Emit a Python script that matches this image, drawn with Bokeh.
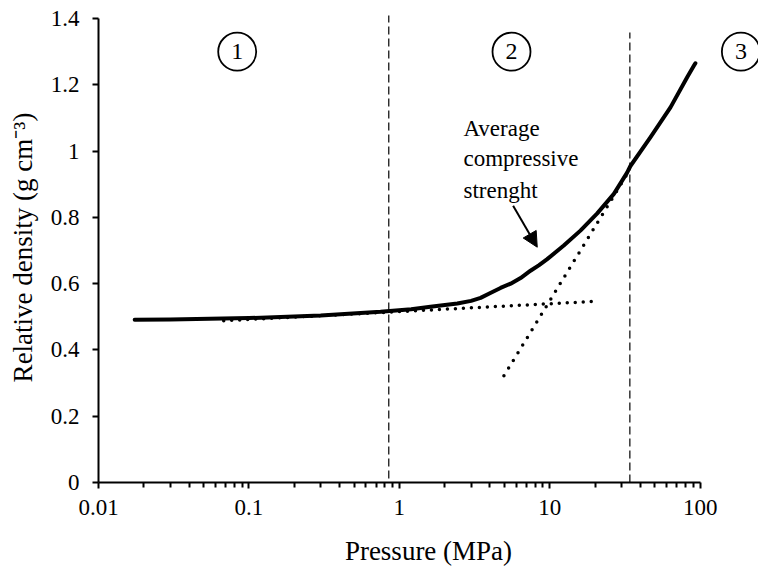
from bokeh.plotting import figure
from bokeh.models import Range1d, FixedTicker, Arrow, NormalHead
from bokeh.core.properties import value
from bokeh.embed import file_html
from bokeh.resources import INLINE

# ---- data ----
pressure = [0.0174, 0.03, 0.1, 0.3, 0.75, 1.2, 1.61, 2.43, 3.0, 3.47, 4.0, 4.71, 5.5,
            6.4, 7.45, 8.5, 9.62, 12.4, 16.0, 20.7, 26.7, 32.7, 34.4, 46.8, 63.5,
            82.0, 91.0, 93.0]
density = [0.491, 0.492, 0.496, 0.504, 0.515, 0.523, 0.530, 0.540, 0.548, 0.557, 0.571, 0.587, 0.600,
           0.617, 0.639, 0.656, 0.674, 0.715, 0.760, 0.812, 0.871, 0.935, 0.955, 1.042, 1.132,
           1.223, 1.258, 1.265]

fit_low_x = [0.068, 19.2]
fit_low_y = [0.488, 0.546]
fit_high_x = [4.96, 34.4]
fit_high_y = [0.322, 0.947]

boundary_x = [0.851, 34.1]
boundary_y0 = [0.012, 0.0]
boundary_y1 = [1.409, 1.358]

region_x = [0.0836, 5.57, 186.6]
region_y = [1.30, 1.30, 1.30]
region_labels = ["1", "2", "3"]

x_ticks = [0.01, 0.1, 1, 10, 100]
x_tick_labels = ["0.01", "0.1", "1", "10", "100"]
y_ticks = [0, 0.2, 0.4, 0.6, 0.8, 1.0, 1.2, 1.4]
y_tick_labels = ["0", "0.2", "0.4", "0.6", "0.8", "1", "1.2", "1.4"]

note_lines = ["Average", "compressive", "strenght"]
note_x = [2.67, 2.67, 2.67]
note_y = [1.068, 0.977, 0.880]
arrow_start = (5.71, 0.835)
arrow_end = (8.26, 0.71)

FONT = "Liberation Serif"

p = figure(x_axis_type="log",
           x_range=Range1d(0.01, 10 ** 2.388),
           y_range=Range1d(0, 1.4182),
           frame_width=660, frame_height=470,
           min_border_left=98, min_border_right=0, min_border_top=12, min_border_bottom=80,
           output_backend="svg", toolbar_location=None,
           x_axis_label="Pressure (MPa)",
           y_axis_label="Relative density (g cm\u207b\u00b3)")
p.outline_line_color = None
p.grid.visible = False
p.background_fill_color = "white"
p.border_fill_color = "white"

# axes
minor = [m * d for d in x_ticks[:-1] for m in range(2, 10)]
p.xaxis.ticker = FixedTicker(ticks=x_ticks, minor_ticks=minor)
p.xaxis.major_label_overrides = {t: l for t, l in zip(x_ticks, x_tick_labels)}
p.xaxis.bounds = (x_ticks[0], x_ticks[-1])
p.yaxis.ticker = FixedTicker(ticks=y_ticks, minor_ticks=[])
p.yaxis.major_label_overrides = {t: l for t, l in zip(y_ticks, y_tick_labels)}
p.yaxis.bounds = (y_ticks[0], y_ticks[-1])

for ax in (p.xaxis, p.yaxis):
    ax.axis_line_width = 2
    ax.axis_line_color = "black"
    ax.major_tick_line_color = "black"
    ax.major_tick_line_width = 2
    ax.minor_tick_line_color = "black"
    ax.minor_tick_line_width = 2
    ax.major_tick_in = 0
    ax.minor_tick_in = 0
    ax.major_tick_out = 6
    ax.minor_tick_out = 5
    ax.major_label_text_font = FONT
    ax.major_label_text_font_size = "23px"
    ax.major_label_text_color = "black"
    ax.axis_label_text_font = FONT
    ax.axis_label_text_font_size = "27px"
    ax.axis_label_text_font_style = "normal"
    ax.axis_label_text_color = "black"
p.xaxis.major_label_standoff = 11
p.yaxis.major_label_standoff = 13
p.xaxis.axis_label_standoff = 18
p.yaxis.axis_label_standoff = 10

# region boundaries
p.segment(x0=boundary_x, y0=boundary_y0, x1=boundary_x, y1=boundary_y1,
          line_color="black", line_width=1.2, line_dash="8 4")

# tangent lines (dotted)
p.line(fit_low_x, fit_low_y, line_color="black", line_width=3.5,
       line_dash="0 8", line_cap="round")
p.line(fit_high_x, fit_high_y, line_color="black", line_width=3.5,
       line_dash="0 9", line_cap="round")

# main curve
p.line(pressure, density, line_color="black", line_width=4, line_join="round", line_cap="round")

# region markers
p.scatter(region_x, region_y, marker="circle", size=38, fill_color=None,
          line_color="black", line_width=1.8)
p.text(x=region_x, y=region_y, text=region_labels, text_align="center",
       text_baseline="middle", text_font=value(FONT), text_font_size="24px",
       text_color="black")

# annotation
p.text(x=note_x, y=note_y, text=note_lines, text_align="left",
       text_baseline="alphabetic", text_font=value(FONT), text_font_size="23px",
       text_color="black")
p.add_layout(Arrow(end=NormalHead(size=15, fill_color="black", line_color="black"),
                   x_start=arrow_start[0], y_start=arrow_start[1],
                   x_end=arrow_end[0], y_end=arrow_end[1],
                   line_color="black", line_width=2))

open("out.html", "w").write(file_html(p, INLINE))
